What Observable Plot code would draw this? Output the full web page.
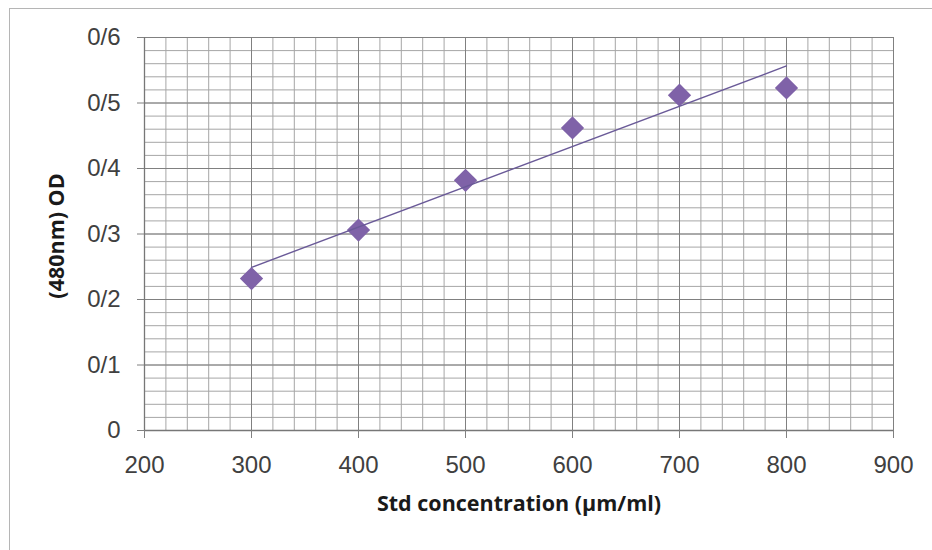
<!DOCTYPE html>
<html><head><meta charset="utf-8">
<script src="https://cdn.jsdelivr.net/npm/d3@7"></script>
<script src="https://cdn.jsdelivr.net/npm/@observablehq/plot@0.6"></script>
<style>
body{margin:0;background:#fff;}
#frame{position:absolute;left:9px;top:8px;width:940px;height:560px;border:1px solid #b5b5b5;box-sizing:border-box;}
#chart{position:absolute;left:0;top:0;}
</style></head><body>
<div id="frame"></div><div id="chart"></div>
<script>
const concentration = [300, 400, 500, 600, 700, 800];
const od = [0.232, 0.306, 0.382, 0.462, 0.512, 0.523];
const xTicks = [200, 300, 400, 500, 600, 700, 800, 900];
const xTickLabels = ["200", "300", "400", "500", "600", "700", "800", "900"];
const yTicks = [0, 0.1, 0.2, 0.3, 0.4, 0.5, 0.6];
const yTickLabels = ["0", "0/1", "0/2", "0/3", "0/4", "0/5", "0/6"];
const xTitle = "Std concentration (µm/ml)";
const yTitle = "(480nm) OD";

const data = concentration.map((c, i) => ({c, od: od[i]}));
const xMinor = d3.range(0, 36).map(i => 200 + i * 20);
const yMinor = d3.range(0, 31).map(i => i / 50);

const chart = Plot.plot({
  width: 932, height: 550,
  marginTop: 37, marginRight: 39, marginBottom: 120, marginLeft: 144,
  style: {fontFamily: "'Liberation Sans', Arial, sans-serif", fontSize: "24px", color: "#404040", background: "transparent"},
  x: {domain: [200, 900]},
  y: {domain: [0, 0.6]},
  marks: [
    Plot.ruleX(xMinor, {stroke: "#a6a6a6", strokeWidth: 1}),
    Plot.ruleY(yMinor, {stroke: "#a6a6a6", strokeWidth: 1}),
    Plot.ruleX(xTicks, {stroke: "#808080", strokeWidth: 1}),
    Plot.ruleY(yTicks, {stroke: "#808080", strokeWidth: 1}),
    Plot.ruleY([0], {stroke: "#777", strokeWidth: 1.3}),
    Plot.ruleX([200], {stroke: "#777", strokeWidth: 1.3}),
    Plot.axisX({ticks: xTicks, tickFormat: (d) => xTickLabels[xTicks.indexOf(d)], tickSize: 8, tickPadding: 17, stroke: "#808080", fill: "#404040", label: null}),
    Plot.axisY({ticks: yTicks, tickFormat: (d) => yTickLabels[yTicks.indexOf(d)], tickSize: 7, tickPadding: 17, stroke: "#808080", fill: "#404040", label: null}),
    Plot.dot(data, {x: "c", y: "od", symbol: "diamond2", r: 10.5, fill: "#7f62a8", stroke: "none"}),
    Plot.linearRegressionY(data, {x: "c", y: "od", stroke: "#6a5a98", strokeWidth: 1.4, ci: 0}),
    Plot.text([xTitle], {frameAnchor: "bottom", dy: 80, fontSize: 21.5, fontWeight: "bold", fontFamily: "'Open Sans', sans-serif", fill: "#1a1a1a"}),
    Plot.text([yTitle], {frameAnchor: "left", textAnchor: "middle", rotate: -90, dx: -87, dy: 2, fontSize: 21.5, fontWeight: "bold", fontFamily: "'Open Sans', sans-serif", fill: "#1a1a1a"})
  ]
});
document.getElementById("chart").append(chart);
</script>
</body></html>
